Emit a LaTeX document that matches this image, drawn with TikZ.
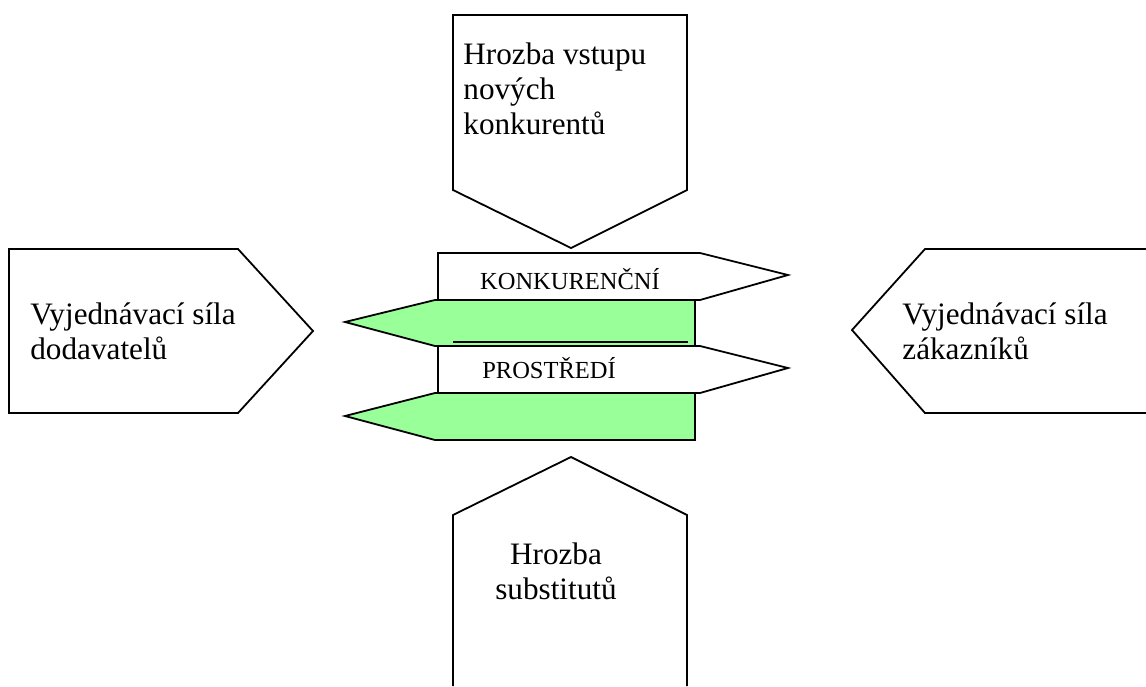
\documentclass[tikz,border=0pt]{standalone}
\usepackage{fontspec}
\setmainfont{Liberation Serif}
\usetikzlibrary{positioning}
\definecolor{bandgreen}{RGB}{153,255,153}

\begin{document}
\begin{tikzpicture}[x=0.5pt,y=-0.5pt,
        force/.style={draw,line width=0.9pt,fill=white,line join=miter},
        band/.style={draw,line width=0.9pt,fill=bandgreen},
        forcetext/.style={inner sep=0pt,font=\fontsize{15.6}{17.5}\selectfont,align=left,anchor=north west},
        bandtext/.style={inner sep=0pt,font=\fontsize{12.25}{14}\selectfont,anchor=base},
  ]
    \useasboundingbox (0,0) rectangle (1146,686);

    % the four forces
    \draw[force] (453,15) -- (687,15) -- (687,190) -- (571,248) -- (453,190) -- cycle;
    \draw[force] (453,686) -- (453,515) -- (571,457) -- (687,515) -- (687,686);
    \draw[force] (9,249) -- (238,249) -- (313,331) -- (238,413) -- (9,413) -- cycle;
    \draw[force] (1146,249) -- (925,249) -- (852,330) -- (925,413) -- (1146,413);

    % the centre
    \draw[force] (438,253) -- (700,253) -- (788,275) -- (700,300) -- (438,300) -- cycle;
    \draw[force] (438,346) -- (700,346) -- (788,368) -- (700,393) -- (438,393) -- cycle;
    \draw[band] (695,300) -- (435,300) -- (345,322) -- (435,346) -- (695,346) -- cycle;
    \draw[band] (695,393) -- (435,393) -- (345,416) -- (435,440) -- (695,440) -- cycle;
    \draw[line width=0.9pt] (453,342) -- (688,342);

    \node[forcetext] (entrants) at (463,42) {Hrozba vstupu\\nových\\konkurentů};
    \node[forcetext] (suppliers) at (30,302) {Vyjednávací síla\\dodavatelů};
    \node[forcetext] (buyers) at (902,302) {Vyjednávací síla\\zákazníků};
    \node[forcetext,align=center,anchor=north] (substitutes) at (556,542) {Hrozba\\substitutů};

    \node[bandtext] (rivalry) at (570,289) {KONKURENČNÍ};
    \node[bandtext] (environment) at (549,378) {PROSTŘEDÍ};
\end{tikzpicture}
\end{document}
